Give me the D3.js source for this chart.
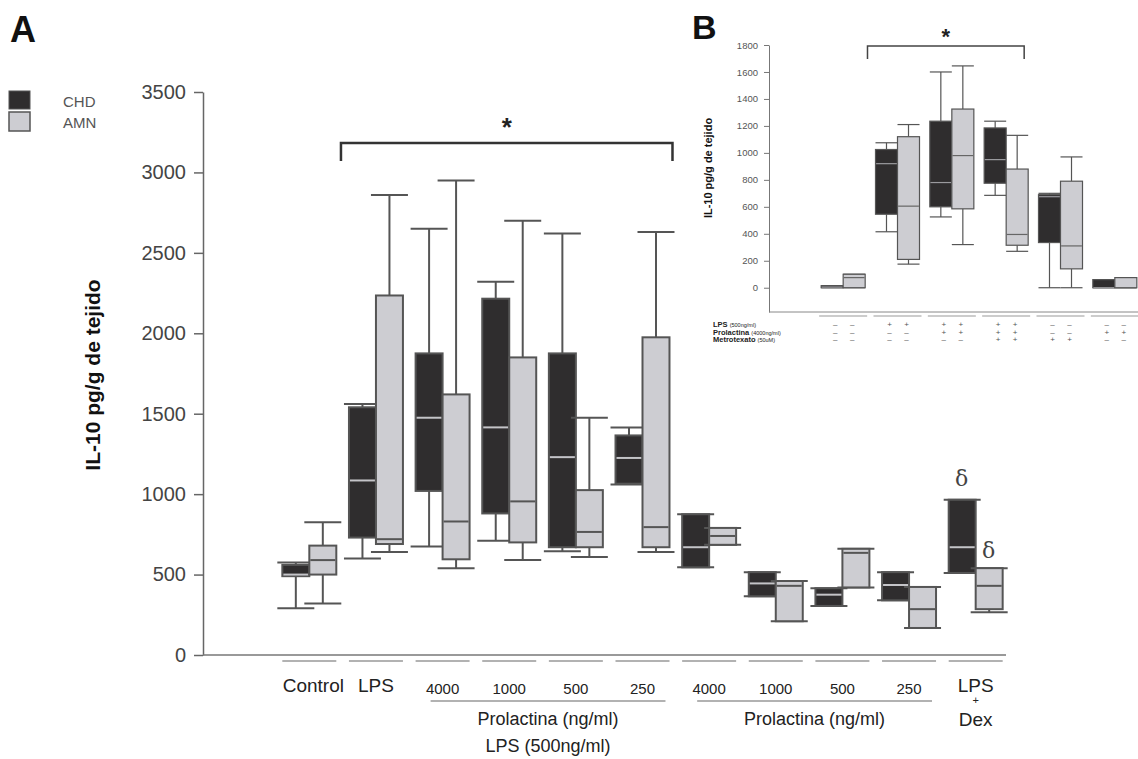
<!DOCTYPE html>
<html>
<head>
<meta charset="utf-8">
<script src="https://cdn.jsdelivr.net/npm/d3@7"></script>
<style>
  body { margin: 0; background: #fff; }
  svg { font-family: "Liberation Sans", Arial, sans-serif; }
</style>
</head>
<body>
<div id="chart"></div>
<script>
// ---- panel A data: [min, q1, median, q3, max] per group ----
var groupsA = ["Control", "LPS", "4000", "1000", "500", "250", "4000", "1000", "500", "250", "LPS"];
var chdA = [
	[290, 490, 500, 560, 575],
	[600, 730, 1085, 1540, 1560],
	[675, 1020, 1475, 1875, 2650],
	[710, 880, 1415, 2215, 2320],
	[645, 670, 1230, 1875, 2620],
	[1060, 1065, 1225, 1365, 1415],
	[545, 545, 670, 875, 875],
	[365, 365, 445, 515, 515],
	[305, 305, 375, 415, 415],
	[340, 340, 435, 515, 515],
	[510, 510, 670, 965, 965]
];
var amnA = [
	[320, 500, 590, 680, 825],
	[640, 690, 720, 2235, 2860],
	[540, 595, 830, 1620, 2950],
	[590, 700, 955, 1850, 2700],
	[610, 670, 765, 1025, 1475],
	[640, 670, 795, 1975, 2630],
	[685, 685, 740, 790, 790],
	[210, 210, 430, 460, 460],
	[420, 420, 635, 660, 660],
	[168, 168, 285, 423, 423],
	[265, 285, 430, 540, 540]
];
var ticksA = [0, 500, 1000, 1500, 2000, 2500, 3000, 3500];

// ---- panel B data ----
var chdB = [
	[0, 0, 5, 15, 15],
	[415, 545, 920, 1025, 1075],
	[525, 600, 780, 1235, 1600],
	[685, 775, 950, 1185, 1235],
	[0, 335, 675, 690, 700],
	[0, 0, 0, 60, 60]
];
var amnB = [
	[0, 0, 75, 100, 100],
	[175, 210, 605, 1120, 1210],
	[320, 585, 980, 1325, 1645],
	[270, 315, 395, 880, 1130],
	[0, 140, 310, 790, 970],
	[0, 0, 0, 75, 75]
];
var ticksB = [0, 200, 400, 600, 800, 1000, 1200, 1400, 1600, 1800];
var rowsB = [
	{name: "LPS", unit: "(500ng/ml)", signs: ["-", "+", "+", "+", "-", "-"]},
	{name: "Prolactina", unit: "(4000ng/ml)", signs: ["-", "-", "+", "+", "-", "+"]},
	{name: "Metrotexato", unit: "(50uM)", signs: ["-", "-", "-", "+", "+", "-"]}
];

var chdFill = "#2f2d2e";
var amnFill = "#cdcdd2";
var lineCol = "#555";

var svg = d3.select("#chart").append("svg")
	.attr("width", 1138)
	.attr("height", 759);

/* box drawing helper */
function drawBoxes(g, data, xs, ys, side, fill, medCol, sw, capExtra) {
	var bw = xs.bandwidth() / 2;
	var grp = g.append("g");
	data.forEach(function(d, i) {
		var x0 = xs(i) + (side === 0 ? 0 : bw);
		var cx = x0 + bw / 2;
		// whiskers
		grp.append("line").attr("x1", cx).attr("x2", cx)
			.attr("y1", ys(d[0])).attr("y2", ys(d[1]))
			.attr("stroke", lineCol).attr("stroke-width", sw);
		grp.append("line").attr("x1", cx).attr("x2", cx)
			.attr("y1", ys(d[3])).attr("y2", ys(d[4]))
			.attr("stroke", lineCol).attr("stroke-width", sw);
		[d[0], d[4]].forEach(function(v) {
			grp.append("line")
				.attr("x1", x0 - capExtra).attr("x2", x0 + bw + capExtra)
				.attr("y1", ys(v)).attr("y2", ys(v))
				.attr("stroke", lineCol).attr("stroke-width", sw);
		});
		grp.append("rect")
			.attr("x", x0).attr("width", bw)
			.attr("y", ys(d[3])).attr("height", Math.max(ys(d[1]) - ys(d[3]), 1))
			.attr("fill", fill).attr("stroke", lineCol).attr("stroke-width", sw);
		grp.append("line")
			.attr("x1", x0 + sw / 2).attr("x2", x0 + bw - sw / 2)
			.attr("y1", ys(d[2])).attr("y2", ys(d[2]))
			.attr("stroke", medCol).attr("stroke-width", sw);
	});
}

/* ================= Panel A ================= */
var yA = d3.scaleLinear().domain([0, 3500]).range([655, 92]);
var xA = d3.scaleBand().domain(d3.range(groupsA.length))
	.range([276, 1009]).paddingInner(0.19).paddingOuter(0.095);

var gA = svg.append("g");

gA.append("g")
	.attr("class", "y axis")
	.attr("transform", "translate(203,0)")
	.call(d3.axisLeft(yA).tickValues(ticksA).tickFormat(d3.format("d"))
		.tickSize(9).tickSizeOuter(0).tickPadding(8))
	.call(function(g) {
		g.selectAll("path, line").attr("stroke", "#666").attr("stroke-width", 1.5);
		g.selectAll("text").attr("font-size", 20).attr("fill", "#444")
			.attr("font-family", "Liberation Sans, Arial, sans-serif");
	});

gA.append("line")
	.attr("x1", 203).attr("x2", 1006)
	.attr("y1", yA(0)).attr("y2", yA(0))
	.attr("stroke", "#777").attr("stroke-width", 1.5);

drawBoxes(gA, chdA, xA, yA, 0, chdFill, "#c4c4c8", 2, 5);
drawBoxes(gA, amnA, xA, yA, 1, amnFill, "#555", 2, 5);

// group underlines and labels
groupsA.forEach(function(name, i) {
	var cx = xA(i) + xA.bandwidth() / 2;
	gA.append("line")
		.attr("x1", cx - 27).attr("x2", cx + 27)
		.attr("y1", 661).attr("y2", 661)
		.attr("stroke", "#999").attr("stroke-width", 1.5);
	var big = isNaN(+name);
	gA.append("text")
		.attr("x", cx + (i === 0 ? 4 : 0)).attr("y", big ? 692 : 694)
		.attr("text-anchor", "middle")
		.attr("font-size", big ? 19 : 15)
		.attr("fill", "#222")
		.text(name);
});
var lastX = xA(groupsA.length - 1) + xA.bandwidth() / 2;
gA.append("text").attr("x", lastX).attr("y", 704).attr("text-anchor", "middle")
	.attr("font-size", 11).attr("fill", "#222").text("+");
gA.append("text").attr("x", lastX).attr("y", 726).attr("text-anchor", "middle")
	.attr("font-size", 19).attr("fill", "#222").text("Dex");

// Prolactina group lines
[[2, 5, true], [6, 9, false]].forEach(function(s) {
	var a = xA(s[0]) + 15, b = xA(s[1]) + xA.bandwidth() - 4;
	gA.append("line").attr("x1", a).attr("x2", b)
		.attr("y1", 701).attr("y2", 701)
		.attr("stroke", "#999").attr("stroke-width", 1.5);
	gA.append("text").attr("x", (a + b) / 2).attr("y", 725)
		.attr("text-anchor", "middle").attr("font-size", 18).attr("fill", "#222")
		.text("Prolactina (ng/ml)");
	if (s[2]) {
		gA.append("text").attr("x", (a + b) / 2).attr("y", 752)
			.attr("text-anchor", "middle").attr("font-size", 18).attr("fill", "#222")
			.text("LPS (500ng/ml)");
	}
});

// y label
gA.append("text")
	.attr("transform", "translate(100,375) rotate(-90)")
	.attr("text-anchor", "middle")
	.attr("font-size", 21).attr("font-weight", "bold").attr("fill", "#111")
	.text("IL-10 pg/g de tejido");

// significance bracket
var bx1 = xA(1) - 8, bx2 = xA(5) + xA.bandwidth() + 3;
gA.append("path")
	.attr("d", "M" + bx1 + ",161V143H" + bx2 + "V161")
	.attr("fill", "none").attr("stroke", "#333").attr("stroke-width", 2.5);
gA.append("text").attr("x", (bx1 + bx2) / 2).attr("y", 136)
	.attr("text-anchor", "middle").attr("font-size", 26).attr("font-weight", "bold")
	.attr("fill", "#222").text("*");

// delta marks
var dexC = xA(10);
gA.append("text").attr("x", dexC + 13).attr("y", yA(965) - 14)
	.attr("text-anchor", "middle").attr("font-family", "DejaVu Serif, serif")
	.attr("font-size", 22).attr("fill", "#444").text("\u03b4");
gA.append("text").attr("x", dexC + 40).attr("y", yA(540) - 10)
	.attr("text-anchor", "middle").attr("font-family", "DejaVu Serif, serif")
	.attr("font-size", 22).attr("fill", "#444").text("\u03b4");

// panel letter + legend
svg.append("text").attr("x", 10).attr("y", 42)
	.attr("font-size", 36).attr("font-weight", "bold").attr("fill", "#111").text("A");
svg.append("rect").attr("x", 9).attr("y", 91).attr("width", 21).attr("height", 18)
	.attr("fill", chdFill).attr("stroke", "#555");
svg.append("rect").attr("x", 9).attr("y", 112).attr("width", 21).attr("height", 19)
	.attr("fill", amnFill).attr("stroke", "#555").attr("stroke-width", 1.5);
svg.append("text").attr("x", 63).attr("y", 107).attr("font-size", 15).attr("fill", "#555").text("CHD");
svg.append("text").attr("x", 63).attr("y", 128).attr("font-size", 15).attr("fill", "#555").text("AMN");

/* ================= Panel B ================= */
var yB = d3.scaleLinear().domain([-180, 1800]).range([312, 45]);
var xB = d3.scaleBand().domain(d3.range(chdB.length))
	.range([816, 1142]).paddingInner(0.19).paddingOuter(0.095);

var gB = svg.append("g");

gB.append("g")
	.attr("transform", "translate(769,0)")
	.call(d3.axisLeft(yB).tickValues(ticksB).tickFormat(d3.format("d"))
		.tickSize(5).tickSizeOuter(0).tickPadding(6))
	.call(function(g) {
		g.selectAll("path, line").attr("stroke", "#777").attr("stroke-width", 1);
		g.selectAll("text").attr("font-size", 9.5).attr("fill", "#555")
			.attr("font-family", "Liberation Sans, Arial, sans-serif");
	});
gB.append("line").attr("x1", 769).attr("x2", 1138)
	.attr("y1", yB(-180)).attr("y2", yB(-180))
	.attr("stroke", "#888").attr("stroke-width", 1);

drawBoxes(gB, chdB, xB, yB, 0, chdFill, "#9a9a9e", 1.2, 0);
drawBoxes(gB, amnB, xB, yB, 1, amnFill, "#666", 1.2, 0);

gB.append("text")
	.attr("transform", "translate(712,168) rotate(-90)")
	.attr("text-anchor", "middle")
	.attr("font-size", 11).attr("font-weight", "bold").attr("fill", "#111")
	.text("IL-10 pg/g de tejido");

var cx1 = xB(1) - 8, cx2 = xB(3) + xB.bandwidth() - 4;
gB.append("path")
	.attr("d", "M" + cx1 + ",59V46H" + cx2 + "V59")
	.attr("fill", "none").attr("stroke", "#444").attr("stroke-width", 1.5);
gB.append("text").attr("x", (cx1 + cx2) / 2).attr("y", 44)
	.attr("text-anchor", "middle").attr("font-size", 22).attr("font-weight", "bold")
	.attr("fill", "#222").text("*");

svg.append("text").attr("x", 692).attr("y", 39)
	.attr("font-size", 34).attr("font-weight", "bold").attr("fill", "#111").text("B");

// group underlines + sign table
chdB.forEach(function(d, i) {
	gB.append("line")
		.attr("x1", xB(i) - 2).attr("x2", xB(i) + xB.bandwidth() + 2)
		.attr("y1", 316).attr("y2", 316)
		.attr("stroke", "#999").attr("stroke-width", 1);
});
rowsB.forEach(function(r, k) {
	var y = 327 + k * 7.6;
	var t = gB.append("text").attr("x", 713).attr("y", y)
		.attr("font-size", 7.5).attr("font-weight", "bold").attr("fill", "#222");
	t.append("tspan").text(r.name + " ");
	t.append("tspan").attr("font-size", 5.5).attr("font-weight", "normal").text(r.unit);
	r.signs.forEach(function(s, i) {
		[0, 1].forEach(function(side) {
			var c = xB(i) + xB.bandwidth() / 4 * (side === 0 ? 1 : 3) + (side === 0 ? 3 : -2);
			gB.append("text").attr("x", c).attr("y", y)
				.attr("text-anchor", "middle").attr("font-size", 8)
				.attr("fill", "#555")
				.text(s === "+" ? "+" : "\u2013");
		});
	});
});
</script>
</body>
</html>
